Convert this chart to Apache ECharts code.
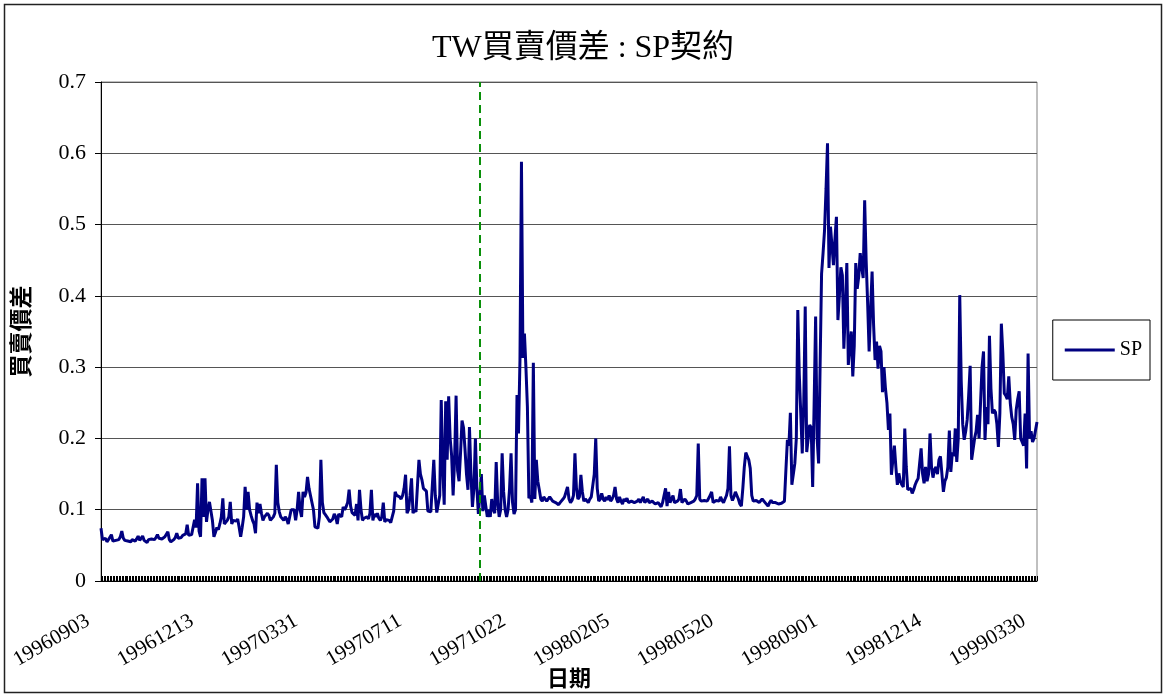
<!DOCTYPE html>
<html>
<head>
<meta charset="utf-8">
<script src="https://cdn.jsdelivr.net/npm/echarts@6/dist/echarts.min.js"></script>
<style>
  html, body { margin: 0; padding: 0; background: #fff; }
  #chart { width: 1166px; height: 697px; }
</style>
</head>
<body>
<div id="chart"></div>
<script>
// Date labels shown along the x axis, one every LABEL_STEP trading days
const tickLabels = ['19960903', '19961213', '19970331', '19970711', '19971022',
                    '19980205', '19980520', '19980901', '19981214', '19990330'];
const LABEL_STEP = 70;

// Daily bid-ask spread of the SP contract, 19960903 - 19990330
const spreadSP = [
  0.074, 0.058, 0.056, 0.060, 0.055, 0.058, 0.057, 0.065, 0.056, 0.058,
  0.057, 0.055, 0.058, 0.062, 0.070, 0.060, 0.057, 0.058, 0.056, 0.057,
  0.055, 0.058, 0.057, 0.056, 0.059, 0.063, 0.057, 0.055, 0.063, 0.057,
  0.056, 0.054, 0.058, 0.057, 0.059, 0.060, 0.058, 0.061, 0.065, 0.060,
  0.058, 0.059, 0.057, 0.062, 0.064, 0.069, 0.058, 0.055, 0.053, 0.058,
  0.061, 0.067, 0.060, 0.062, 0.061, 0.064, 0.063, 0.066, 0.079, 0.064,
  0.063, 0.065, 0.066, 0.086, 0.075, 0.137, 0.070, 0.062, 0.144, 0.090,
  0.144, 0.083, 0.100, 0.111, 0.112, 0.085, 0.062, 0.068, 0.075, 0.072,
  0.080, 0.090, 0.116, 0.080, 0.082, 0.085, 0.090, 0.111, 0.080, 0.085,
  0.083, 0.084, 0.087, 0.075, 0.062, 0.075, 0.090, 0.132, 0.100, 0.125,
  0.100, 0.092, 0.085, 0.080, 0.067, 0.110, 0.095, 0.108, 0.095, 0.085,
  0.090, 0.088, 0.095, 0.092, 0.085, 0.083, 0.090, 0.095, 0.163, 0.110,
  0.097, 0.090, 0.088, 0.085, 0.090, 0.087, 0.080, 0.078, 0.100,
  0.098, 0.100, 0.085, 0.100, 0.125, 0.100, 0.090, 0.125, 0.118, 0.124,
  0.146, 0.130, 0.120, 0.120, 0.100, 0.076, 0.075, 0.074, 0.090, 0.170,
  0.110, 0.096, 0.093, 0.090, 0.088, 0.083, 0.085, 0.087, 0.094, 0.090,
  0.080, 0.094, 0.092, 0.090, 0.104, 0.100, 0.104, 0.110, 0.128, 0.105,
  0.096, 0.094, 0.092, 0.108, 0.085, 0.128, 0.100, 0.085, 0.088, 0.087,
  0.090, 0.087, 0.095, 0.128, 0.085, 0.094, 0.090, 0.095, 0.088, 0.085,
  0.090, 0.110, 0.083, 0.086, 0.088, 0.085, 0.082, 0.090, 0.098, 0.125,
  0.120, 0.120, 0.118, 0.115, 0.120, 0.130, 0.149, 0.095, 0.100, 0.120,
  0.144, 0.095, 0.100, 0.097, 0.098, 0.170, 0.150, 0.142, 0.130, 0.128,
  0.126, 0.098, 0.100, 0.097, 0.096, 0.170, 0.120, 0.096, 0.094, 0.120,
  0.254, 0.160, 0.107, 0.252, 0.170, 0.259, 0.200, 0.176, 0.120, 0.170,
  0.260, 0.155, 0.140, 0.180, 0.225, 0.215, 0.185, 0.150, 0.128, 0.216,
  0.150, 0.104, 0.130, 0.200, 0.130, 0.094, 0.120, 0.150, 0.098, 0.120,
  0.105, 0.090, 0.100, 0.090, 0.115, 0.100, 0.095, 0.167, 0.110,
  0.090, 0.100, 0.179, 0.125, 0.100, 0.090, 0.100, 0.130, 0.179, 0.110,
  0.094, 0.100, 0.261, 0.207, 0.310, 0.588, 0.313, 0.347, 0.300, 0.244,
  0.116, 0.120, 0.110, 0.306, 0.115, 0.170, 0.140, 0.128, 0.115, 0.112,
  0.118, 0.115, 0.112, 0.114, 0.118, 0.116, 0.112, 0.114, 0.110, 0.112,
  0.107, 0.110, 0.112, 0.115, 0.118, 0.125, 0.132, 0.115, 0.110, 0.113,
  0.120, 0.179, 0.130, 0.115, 0.118, 0.149, 0.125, 0.112, 0.115, 0.113,
  0.110, 0.115, 0.118, 0.120, 0.150, 0.200, 0.130, 0.112, 0.115, 0.123,
  0.115, 0.112, 0.118, 0.114, 0.120, 0.112, 0.115, 0.120, 0.132, 0.115,
  0.110, 0.118, 0.112, 0.108, 0.115, 0.112, 0.116, 0.110, 0.108, 0.112,
  0.114, 0.110, 0.108, 0.112, 0.115, 0.110, 0.112, 0.118, 0.110, 0.112,
  0.115, 0.110, 0.108, 0.112, 0.110, 0.108, 0.106, 0.110, 0.108,
  0.104, 0.110, 0.112, 0.130, 0.105, 0.125, 0.110, 0.115, 0.120, 0.110,
  0.108, 0.112, 0.115, 0.129, 0.110, 0.108, 0.115, 0.112, 0.108, 0.107,
  0.110, 0.108, 0.112, 0.115, 0.120, 0.193, 0.115, 0.112, 0.110, 0.113,
  0.115, 0.112, 0.113, 0.120, 0.125, 0.110, 0.112, 0.113, 0.115, 0.112,
  0.118, 0.113, 0.110, 0.115, 0.120, 0.130, 0.189, 0.120, 0.113, 0.118,
  0.125, 0.120, 0.115, 0.108, 0.105, 0.130, 0.160, 0.180, 0.175, 0.170,
  0.158, 0.120, 0.112, 0.110, 0.113, 0.115, 0.110, 0.112, 0.115, 0.113,
  0.110, 0.108, 0.105, 0.110, 0.113, 0.110, 0.108, 0.110, 0.112,
  0.108, 0.110, 0.109, 0.110, 0.112, 0.156, 0.198, 0.190, 0.236, 0.135,
  0.150, 0.165, 0.200, 0.380, 0.290, 0.291, 0.179, 0.250, 0.385, 0.181,
  0.200, 0.219, 0.215, 0.132, 0.250, 0.371, 0.200, 0.165, 0.300, 0.431,
  0.460, 0.492, 0.550, 0.614, 0.439, 0.497, 0.470, 0.443, 0.480, 0.511,
  0.366, 0.400, 0.440, 0.429, 0.326, 0.380, 0.446, 0.303, 0.330, 0.350,
  0.287, 0.330, 0.446, 0.410, 0.427, 0.460, 0.440, 0.425, 0.534, 0.450,
  0.390, 0.322, 0.380, 0.434, 0.360, 0.310, 0.336, 0.298, 0.330, 0.322,
  0.265, 0.300, 0.270, 0.250, 0.212, 0.235, 0.149, 0.170, 0.190, 0.160,
  0.135, 0.151, 0.140, 0.135, 0.132, 0.214, 0.160, 0.128, 0.130, 0.130,
  0.123, 0.128, 0.135, 0.140, 0.144, 0.165, 0.186, 0.150, 0.137, 0.160,
  0.140, 0.150, 0.207, 0.160, 0.145, 0.156, 0.160, 0.150, 0.170, 0.175,
  0.177, 0.125, 0.140, 0.145, 0.160, 0.211, 0.153, 0.180, 0.175, 0.214,
  0.167, 0.200, 0.401, 0.280, 0.220, 0.198, 0.210, 0.226, 0.260, 0.302,
  0.170, 0.185, 0.200, 0.210, 0.233, 0.200, 0.250, 0.300, 0.322, 0.198,
  0.244, 0.220, 0.344, 0.270, 0.235, 0.240, 0.237, 0.220, 0.188, 0.235,
  0.361, 0.320, 0.263, 0.260, 0.255, 0.287, 0.250, 0.230, 0.220, 0.198,
  0.240, 0.255, 0.266, 0.200, 0.195, 0.190, 0.235, 0.158, 0.319, 0.200,
  0.210, 0.195, 0.200, 0.200, 0.223
];

// Trading day marked by the dashed vertical reference line
const markerDay = 255;

// Value axis range
const Y_MIN = 0, Y_MAX = 0.7, Y_STEP = 0.1;

const categories = spreadSP.map((_, i) =>
  (i % LABEL_STEP === 0 && tickLabels[i / LABEL_STEP]) ? tickLabels[i / LABEL_STEP] : String(i));

const serif = '"Liberation Serif", "Noto Sans CJK TC", serif';
const lineColor = '#000080';

const chart = echarts.init(document.getElementById('chart'), null, { renderer: 'canvas' });
chart.setOption({
  animation: false,
  backgroundColor: '#fff',
  title: {
    text: 'TW買賣價差 : SP契約',
    left: 'center',
    top: 28,
    textStyle: { fontFamily: serif, fontSize: 32, fontWeight: 'normal', color: '#000' }
  },
  grid: {
    left: 101, right: 129, top: 82, bottom: 116,
    outerBoundsMode: 'none',
    containLabel: false,
    show: true, borderColor: '#808080', borderWidth: 1, backgroundColor: '#fff'
  },
  legend: {
    right: 16, top: 320,
    borderColor: '#000', borderWidth: 1,
    padding: [20, 8, 20, 12],
    itemWidth: 50, itemHeight: 3,
    icon: 'rect',
    textStyle: { fontFamily: serif, fontSize: 20, color: '#000', lineHeight: 20 },
    data: ['SP']
  },
  xAxis: {
    type: 'category',
    data: categories,
    boundaryGap: false,
    name: '日期',
    nameLocation: 'middle',
    nameGap: 88,
    nameMoveOverlap: false,
    nameTextStyle: { fontFamily: serif, fontSize: 22, fontWeight: 'bold', color: '#000' },
    axisLine: { lineStyle: { color: '#000', width: 1 } },
    axisTick: { interval: 0, inside: true, length: 5, lineStyle: { color: '#000', width: 1 } },
    axisLabel: {
      interval: LABEL_STEP - 1,
      rotate: 30,
      margin: 31,
      padding: [0, 15, 0, 0],
      fontFamily: serif, fontSize: 21, color: '#000',
      formatter: (v, i) => tickLabels[i / LABEL_STEP] || ''
    },
    splitLine: { show: false }
  },
  yAxis: {
    type: 'value',
    min: Y_MIN, max: Y_MAX, interval: Y_STEP,
    name: '買賣價差',
    nameLocation: 'middle',
    nameRotate: 90,
    nameGap: 66,
    nameMoveOverlap: false,
    nameTextStyle: { fontFamily: serif, fontSize: 23, fontWeight: 'bold', color: '#000' },
    axisLine: { show: true, lineStyle: { color: '#000', width: 1 } },
    axisTick: { show: true, inside: false, length: 6, lineStyle: { color: '#000' } },
    axisLabel: { fontFamily: serif, fontSize: 22, color: '#000', margin: 15 },
    splitLine: { show: true, lineStyle: { color: '#555', width: 1 } }
  },
  series: [{
    name: 'SP',
    type: 'line',
    data: spreadSP,
    symbol: 'none',
    showSymbol: false,
    lineStyle: { color: lineColor, width: 3 },
    itemStyle: { color: lineColor },
    markLine: {
      symbol: 'none',
      silent: true,
      label: { show: false },
      lineStyle: { color: '#0a900a', type: [8, 5], width: 2 },
      data: [{ xAxis: markerDay }]
    }
  }],
  graphic: [{
    type: 'rect',
    silent: true,
    shape: { x: 4.5, y: 4.5, width: 1157, height: 688 },
    style: { fill: null, stroke: '#222', lineWidth: 1.5 }
  }]
});
</script>
</body>
</html>
